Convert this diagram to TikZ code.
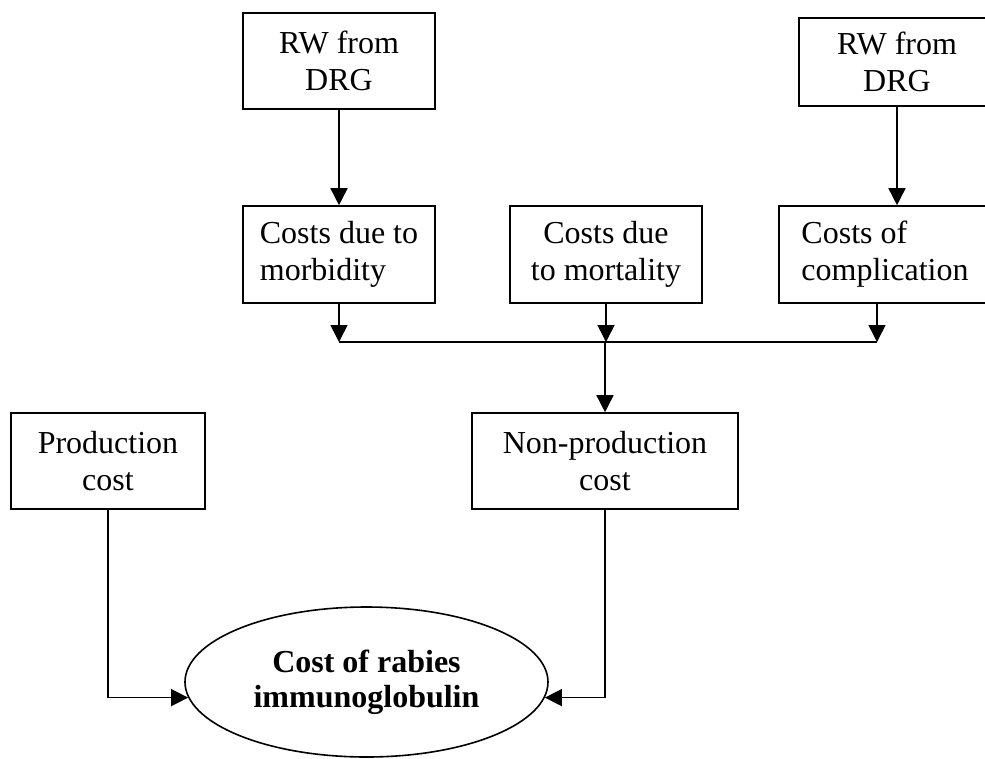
\documentclass[tikz,border=0pt]{standalone}
\usepackage{fontspec}
\setmainfont{Liberation Serif}
\usetikzlibrary{arrows.meta,shapes.geometric}
\begin{document}
\begin{tikzpicture}[x=1pt,y=-1pt,
  box/.style={draw,line width=1.6pt,inner sep=0pt,align=center,
    font=\fontsize{32pt}{37pt}\selectfont},
  leftbox/.style={box,align=left},
  arr/.style={line width=1.6pt,-{Triangle[width=17pt,length=17pt]}},
  link/.style={line width=1.6pt}]
  \useasboundingbox (0,0) rectangle (985,758);
  \clip (0,0) rectangle (985,758);

  % top row: relative weights
  \node[box,minimum width=192pt,minimum height=96pt] (rw1) at (339,61) {RW from\\DRG};
  \node[box,minimum width=196pt,minimum height=88pt] (rw2) at (897,62) {RW from\\DRG};

  % cost components
  \node[leftbox,minimum width=192pt,minimum height=97pt] (morb) at (339,254.5) {Costs due to\\morbidity};
  \node[box,minimum width=192pt,minimum height=97pt] (mort) at (606,254.5) {Costs due\\to mortality};
  \node[leftbox,minimum width=212pt,minimum height=97pt] (comp) at (885,254.5) {Costs of\\complication};

  % production and non-production
  \node[box,minimum width=194pt,minimum height=96pt] (prod) at (108,461) {Production\\cost};
  \node[box,minimum width=266pt,minimum height=96pt] (nonp) at (605,461) {Non-production\\cost};

  % result
  \node[ellipse,draw,line width=1.6pt,inner sep=0pt,minimum width=363pt,minimum height=150pt,
    align=center,font=\fontsize{32pt}{35pt}\selectfont\bfseries] (res) at (366.5,682)
    {Cost of rabies\\immunoglobulin};

  % collecting line
  \coordinate (jl) at (339,342);
  \coordinate (jm) at (605,342);
  \coordinate (jr) at (877,342);

  \draw[arr] (rw1) -- (morb);
  \draw[arr] (rw2.south) -- (rw2.south |- comp.north);
  \draw[arr] (morb.south) -- (jl);
  \draw[arr] (mort.south) -- (mort.south |- jl);
  \draw[arr] (jr |- comp.south) -- (jr);
  \draw[link] (jl) -- (jr);
  \draw[arr] (jm) -- (nonp.north);
  \draw[arr] (prod.south) |- (res.185.8);
  \draw[arr] (nonp.south) |- (res.-5.8);
\end{tikzpicture}
\end{document}
